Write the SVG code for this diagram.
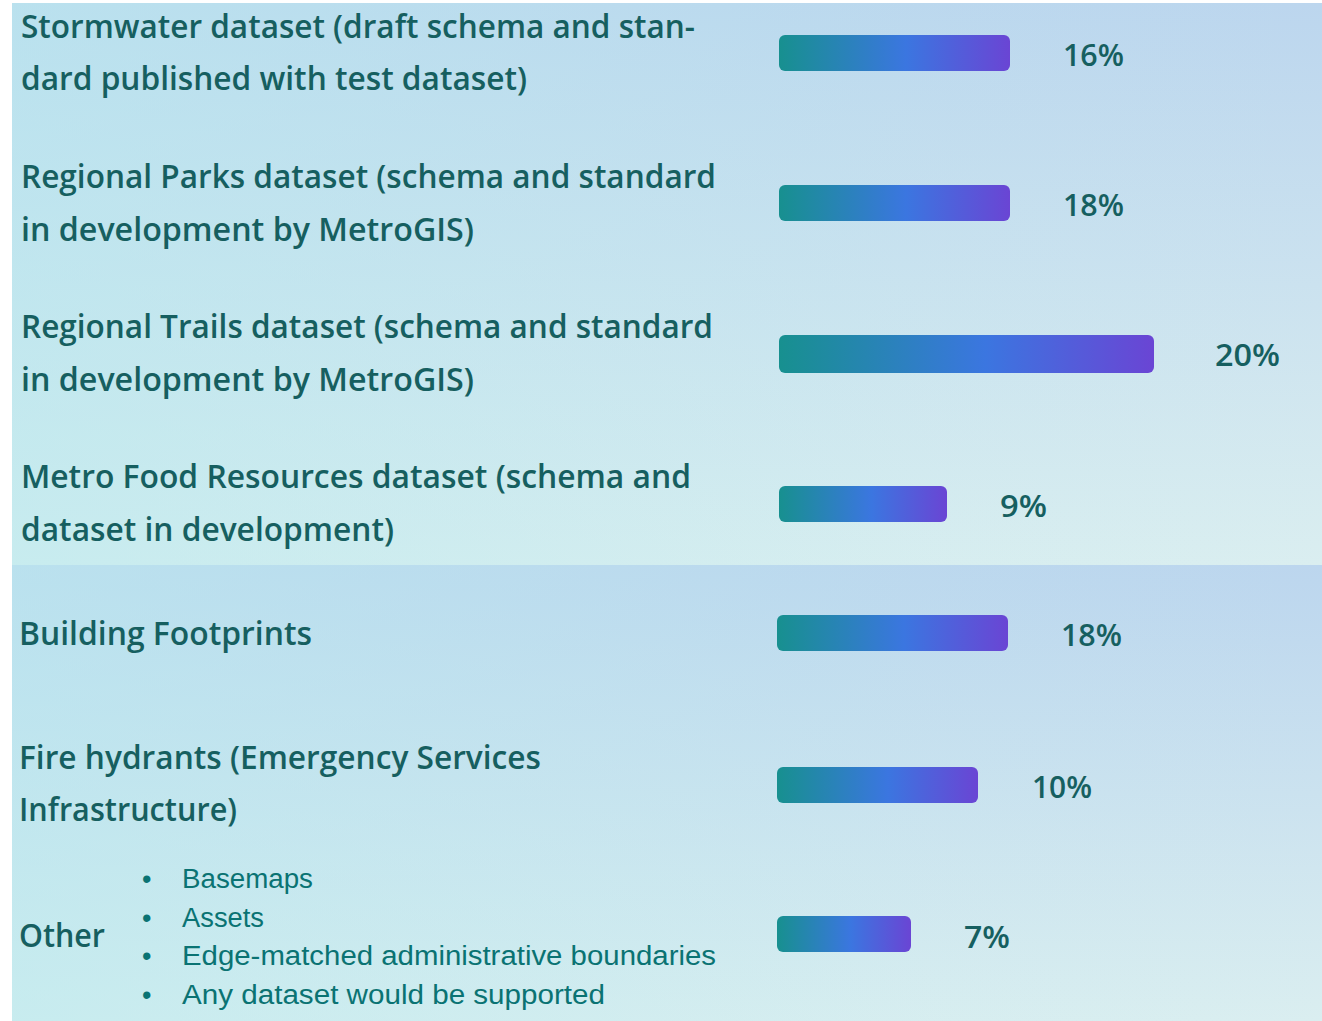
<svg xmlns="http://www.w3.org/2000/svg" width="1322" height="1021" viewBox="0 0 1322 1021">
<defs>
<linearGradient id="bgV" x1="0" y1="0" x2="0" y2="1"><stop offset="0" stop-color="#bcd6ee"/><stop offset="1" stop-color="#daeef0"/></linearGradient>
<linearGradient id="bgH" x1="0" y1="0" x2="1" y2="0"><stop offset="0" stop-color="#b8eaee" stop-opacity="0.55"/><stop offset="0.7" stop-color="#b8eaee" stop-opacity="0.1"/><stop offset="1" stop-color="#b8eaee" stop-opacity="0"/></linearGradient>
<linearGradient id="bar" x1="0" y1="0" x2="1" y2="0"><stop offset="0" stop-color="#17908f"/><stop offset="0.55" stop-color="#3b76e0"/><stop offset="1" stop-color="#6a45d4"/></linearGradient>
<style>
.lbl{font-family:"Open Sans","Noto Sans","DejaVu Sans",sans-serif;font-size:32px;font-weight:600;fill:#165f60}
.pct{font-family:"Open Sans","Noto Sans","DejaVu Sans",sans-serif;font-size:31px;font-weight:600;fill:#165f60}
.bul{font-family:"Liberation Sans","Noto Sans",sans-serif;font-size:27px;fill:#0a7373}
.b{fill:url(#bar)}
</style>
</defs>
<rect x="0" y="0" width="1322" height="1021" fill="#ffffff"/>
<g id="panel-top">
<rect x="12" y="3" width="1310" height="562" fill="url(#bgV)"/>
<rect x="12" y="3" width="1310" height="562" fill="url(#bgH)"/>
</g>
<g id="panel-bottom">
<rect x="12" y="565" width="1310" height="456" fill="url(#bgV)"/>
<rect x="12" y="565" width="1310" height="456" fill="url(#bgH)"/>
</g>
<g id="row-stormwater">
<text class="lbl" x="21" y="38" textLength="674" lengthAdjust="spacingAndGlyphs">Stormwater dataset (draft schema and stan-</text>
<text class="lbl" x="21" y="90" textLength="506" lengthAdjust="spacingAndGlyphs">dard published with test dataset)</text>
<rect class="b" x="779" y="35" width="231" height="36" rx="6"/>
<text class="pct" x="1063" y="66" textLength="61" lengthAdjust="spacingAndGlyphs">16%</text>
</g>
<g id="row-parks">
<text class="lbl" x="21" y="188" textLength="695" lengthAdjust="spacingAndGlyphs">Regional Parks dataset (schema and standard</text>
<text class="lbl" x="21" y="241" textLength="453" lengthAdjust="spacingAndGlyphs">in development by MetroGIS)</text>
<rect class="b" x="779" y="185" width="231" height="36" rx="6"/>
<text class="pct" x="1063" y="216" textLength="61" lengthAdjust="spacingAndGlyphs">18%</text>
</g>
<g id="row-trails">
<text class="lbl" x="21" y="338" textLength="692" lengthAdjust="spacingAndGlyphs">Regional Trails dataset (schema and standard</text>
<text class="lbl" x="21" y="391" textLength="453" lengthAdjust="spacingAndGlyphs">in development by MetroGIS)</text>
<rect class="b" x="779" y="335" width="375" height="38" rx="6"/>
<text class="pct" x="1215" y="366" textLength="65" lengthAdjust="spacingAndGlyphs">20%</text>
</g>
<g id="row-food">
<text class="lbl" x="21" y="488" textLength="670" lengthAdjust="spacingAndGlyphs">Metro Food Resources dataset (schema and</text>
<text class="lbl" x="21" y="541" textLength="373" lengthAdjust="spacingAndGlyphs">dataset in development)</text>
<rect class="b" x="779" y="486" width="168" height="36" rx="6"/>
<text class="pct" x="1000" y="517" textLength="47" lengthAdjust="spacingAndGlyphs">9%</text>
</g>
<g id="row-buildings">
<text class="lbl" x="19" y="645" textLength="293" lengthAdjust="spacingAndGlyphs">Building Footprints</text>
<rect class="b" x="777" y="615" width="231" height="36" rx="6"/>
<text class="pct" x="1061" y="646" textLength="61" lengthAdjust="spacingAndGlyphs">18%</text>
</g>
<g id="row-hydrants">
<text class="lbl" x="19" y="769" textLength="522" lengthAdjust="spacingAndGlyphs">Fire hydrants (Emergency Services</text>
<text class="lbl" x="19" y="821" textLength="218" lengthAdjust="spacingAndGlyphs">Infrastructure)</text>
<rect class="b" x="777" y="767" width="201" height="36" rx="6"/>
<text class="pct" x="1032" y="798" textLength="60" lengthAdjust="spacingAndGlyphs">10%</text>
</g>
<g id="row-other">
<text class="lbl" x="19" y="947" textLength="86" lengthAdjust="spacingAndGlyphs">Other</text>
<text class="bul" x="142" y="888">•</text><text class="bul" x="182" y="888" textLength="131" lengthAdjust="spacingAndGlyphs">Basemaps</text>
<text class="bul" x="142" y="927">•</text><text class="bul" x="182" y="927" textLength="82" lengthAdjust="spacingAndGlyphs">Assets</text>
<text class="bul" x="142" y="965">•</text><text class="bul" x="182" y="965" textLength="534" lengthAdjust="spacingAndGlyphs">Edge-matched administrative boundaries</text>
<text class="bul" x="142" y="1004">•</text><text class="bul" x="182" y="1004" textLength="423" lengthAdjust="spacingAndGlyphs">Any dataset would be supported</text>
<rect class="b" x="777" y="916" width="134" height="36" rx="6"/>
<text class="pct" x="964" y="948" textLength="46" lengthAdjust="spacingAndGlyphs">7%</text>
</g>
</svg>
